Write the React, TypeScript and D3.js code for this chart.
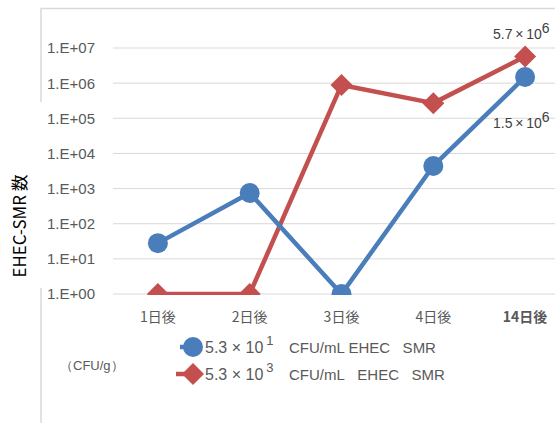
import React from "react";
import * as d3 from "d3";

const categories = ["1日後", "2日後", "3日後", "4日後", "14日後"];
const blueValues = [28, 750, 1, 4400, 1.5e6];
const redValues = [1, 1, 8.9e5, 2.7e5, 5.7e6];
const yTicks = [1, 10, 100, 1e3, 1e4, 1e5, 1e6, 1e7];
const yTickLabels = ["1.E+00", "1.E+01", "1.E+02", "1.E+03", "1.E+04", "1.E+05", "1.E+06", "1.E+07"];
const legendItems = [
  { base: "5.3 × 10", exp: "1", rest: "CFU/mL EHEC\u00a0\u00a0 SMR" },
  { base: "5.3 × 10", exp: "3", rest: "CFU/mL\u00a0\u00a0 EHEC\u00a0\u00a0 SMR" },
];
const dataLabels = [
  { base: "5.7\u2009×\u200910", exp: "6" },
  { base: "1.5\u2009×\u200910", exp: "6" },
];

const BLUE = "#4a7ebb";
const RED = "#c3504e";
const TXT = "#595959";

export default function App() {
  const W = 555, H = 423;
  const x = d3.scalePoint<string>().domain(categories).range([112, 571]).padding(0.5);
  const y = d3.scaleLog().domain([1, 1e7]).range([294, 48]);
  const line = d3.line<number>().x((_, i) => x(categories[i])!).y((d) => y(d));
  const diamond = (cx: number, cy: number, r: number) =>
    `M${cx},${cy - r}L${cx + r},${cy}L${cx},${cy + r}L${cx - r},${cy}Z`;
  const sans = "'Liberation Sans', Arial, sans-serif";
  const jp = "'Noto Sans CJK JP', sans-serif";

  return (
    <svg width={W} height={H} style={{ position: "absolute", left: 0, top: 0, background: "#fff" }}>
      <defs>
        <clipPath id="plot">
          <rect x={0} y={0} width={W} height={295} />
        </clipPath>
      </defs>
      <rect x={0} y={0} width={W} height={H} fill="#fff" />
      {/* frame */}
      <line x1={41} y1={8.5} x2={W} y2={8.5} stroke="#d9d9d9" strokeWidth={1.5} />
      <line x1={41} y1={8} x2={41} y2={102} stroke="#d9d9d9" strokeWidth={1.5} />
      <line x1={41} y1={288} x2={41} y2={H} stroke="#d9d9d9" strokeWidth={1.5} />
      {/* gridlines */}
      {yTicks.map((t, i) => (
        <g key={i}>
          <line x1={113} x2={W} y1={y(t)} y2={y(t)} stroke="#d9d9d9" strokeWidth={1} />
          <text x={95} y={y(t)} dy="0.36em" textAnchor="end" fontFamily={sans} fontSize={15} fill={TXT}>
            {yTickLabels[i]}
          </text>
        </g>
      ))}
      {/* x labels */}
      {categories.map((c, i) => (
        <text key={c} x={x(c)!} y={317} dy="0.36em" textAnchor="middle" fontFamily={jp} fontSize={14}
          fill={TXT} fontWeight={i === 4 ? 600 : 400}>
          {c}
        </text>
      ))}
      {/* y title */}
      <text transform="translate(26,226) rotate(-90)" textAnchor="middle" fontFamily={jp}
        fontSize={17} fontWeight={400} fill="#000" textLength={103} lengthAdjust="spacingAndGlyphs">
        EHEC-SMR 数
      </text>
      {/* series */}
      <g clipPath="url(#plot)">
        <path d={line(redValues)!} fill="none" stroke={RED} strokeWidth={4.5} strokeLinejoin="round" />
        {redValues.map((v, i) => (
          <path key={i} d={diamond(x(categories[i])!, y(v), 11)} fill={RED} />
        ))}
        <path d={line(blueValues)!} fill="none" stroke={BLUE} strokeWidth={4.5} strokeLinejoin="round" />
        {blueValues.map((v, i) => (
          <circle key={i} cx={x(categories[i])!} cy={y(v)} r={10} fill={BLUE} />
        ))}
      </g>
      {/* data labels */}
      {[{ yy: 39 }, { yy: 128 }].map((d, i) => (
        <text key={i} x={493} y={d.yy} fontFamily={sans} fontSize={14} fill="#404040">
          {dataLabels[i].base}
          <tspan dy={-6} fontSize={14}>{dataLabels[i].exp}</tspan>
        </text>
      ))}
      {/* legend */}
      {legendItems.map((it, i) => {
        const ly = 347 + i * 27;
        const col = i === 0 ? BLUE : RED;
        return (
          <g key={i}>
            <line x1={i === 0 ? 180 : 176} x2={193} y1={ly} y2={ly} stroke={col} strokeWidth={4.5} />
            {i === 0 ? <circle cx={193} cy={ly} r={10} fill={col} /> : <path d={diamond(193, ly, 11)} fill={col} />}
            <text x={205} y={ly + 6} fontFamily={sans} fontSize={16} fill={TXT}>
              {it.base}
              <tspan dx={3} dy={-8} fontSize={13}>{it.exp}</tspan>
            </text>
            <text x={289} y={ly + 6} fontFamily={sans} fontSize={15} fill={TXT}>{it.rest}</text>
          </g>
        );
      })}
      <text x={60} y={370} fontFamily={sans} fontSize={13} fill={TXT}>（CFU/g）</text>
    </svg>
  );
}
